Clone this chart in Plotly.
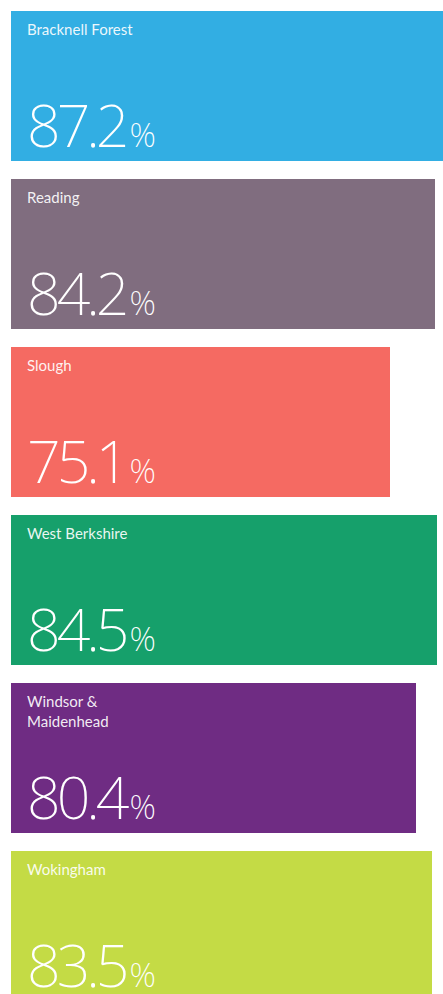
import plotly.graph_objects as go

areas = ["Bracknell Forest", "Reading", "Slough", "West Berkshire", "Windsor &<br>Maidenhead", "Wokingham"]
values = [87.2, 84.2, 75.1, 84.5, 80.4, 83.5]
colors = ["#32AEE3", "#806D7F", "#F56A62", "#16A06B", "#6F2C83", "#C4DB45"]

positions = list(range(len(areas)))

fig = go.Figure()
fig.add_trace(go.Bar(
    x=values,
    y=positions,
    orientation="h",
    width=0.893,
    marker=dict(color=colors, line=dict(width=0)),
    hoverinfo="skip",
))

annotations = []
for pos, name, val in zip(positions, areas, values):
    s = f"{val:.1f}"
    annotations.append(dict(
        x=0, y=pos, xref="x", yref="y",
        text=name, showarrow=False,
        xanchor="left", yanchor="top",
        xshift=14, yshift=68,
        align="left",
        font=dict(family="Lato", size=15, color="rgba(255,255,255,0.92)"),
    ))
    annotations.append(dict(
        x=0, y=pos, xref="x", yref="y",
        text=(f"<span style='letter-spacing:-4px'>{s[:-1]}</span>{s[-1]}"
              f"<span style='font-size:33px'>%</span>"),
        showarrow=False,
        xanchor="left", yanchor="bottom",
        xshift=14, yshift=-80,
        align="left",
        font=dict(family="Noto Sans", size=59, color="#ffffff", weight=200),
    ))

fig.update_layout(
    width=443, height=994,
    margin=dict(l=0, r=0, t=0, b=0),
    paper_bgcolor="#ffffff", plot_bgcolor="#ffffff",
    showlegend=False,
    bargap=0,
    xaxis=dict(range=[-11 / 5.04, 432 / 5.04], visible=False, showgrid=False, zeroline=False, fixedrange=True),
    yaxis=dict(range=[5.4048, -0.5119], visible=False, showgrid=False, zeroline=False, fixedrange=True),
    annotations=annotations,
)

fig.write_html("out.html", config={"displayModeBar": False},
               post_script="document.body.style.margin='0';document.body.style.overflow='hidden';")
